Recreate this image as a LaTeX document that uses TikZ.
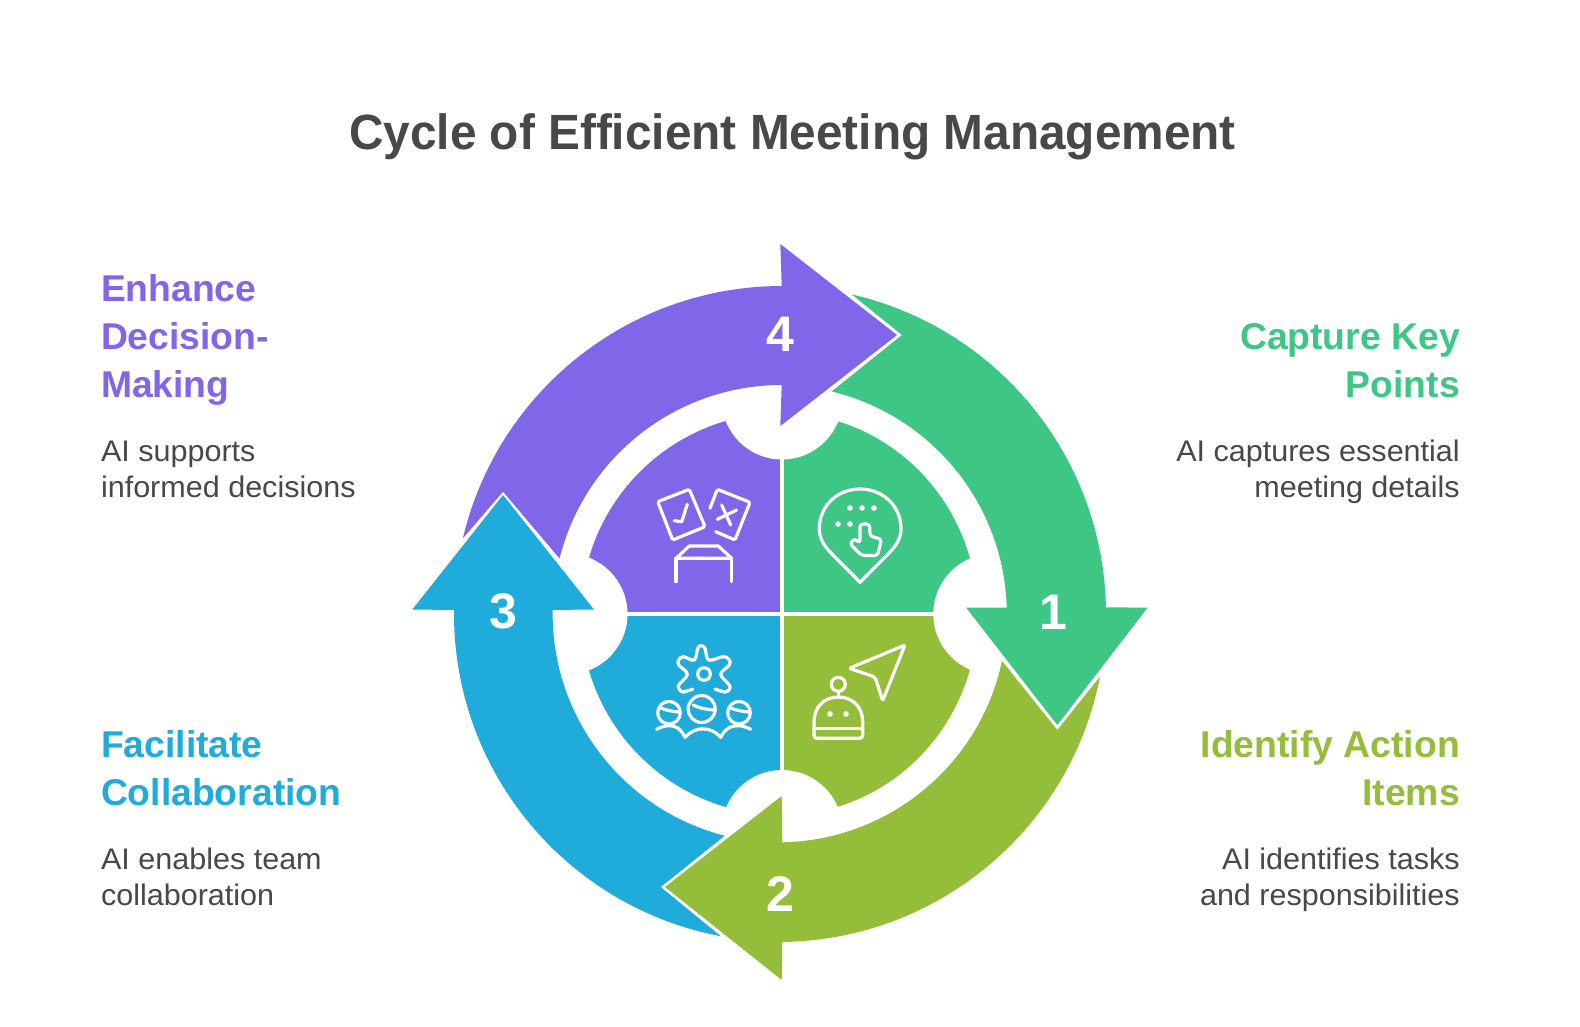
\documentclass[tikz,border=0pt]{standalone}
\usepackage{fontspec}
\setmainfont{Liberation Sans}
\newfontfamily\bodyfam[FakeStretch=1.025]{Liberation Sans}
\newfontfamily\titlefam[FakeStretch=0.965]{Liberation Sans}
\definecolor{cgreen}{HTML}{3EC685}
\definecolor{clime}{HTML}{94BD3A}
\definecolor{cblue}{HTML}{20ACDB}
\definecolor{cpurple}{HTML}{8066E9}
\definecolor{cgray}{HTML}{484848}
\tikzset{
  titletext/.style={inner sep=0pt,text=cgray,font=\titlefam\fontsize{49.5}{56}\selectfont\bfseries},
  headl/.style={inner sep=0pt,anchor=north west,align=left,font=\fontsize{37.3}{48}\selectfont\bfseries},
  headr/.style={inner sep=0pt,anchor=north east,align=right,font=\fontsize{37.3}{48}\selectfont\bfseries},
  bodyl/.style={inner sep=0pt,anchor=north west,align=left,text=cgray,font=\bodyfam\fontsize{29.8}{36}\selectfont},
  bodyr/.style={inner sep=0pt,anchor=north east,align=right,text=cgray,font=\bodyfam\fontsize{29.8}{36}\selectfont},
  numtext/.style={inner sep=0pt,text=white,font=\fontsize{50}{50}\selectfont\bfseries},
  icon/.style={draw=white,line width=3.2pt,line cap=round,line join=round},
  icondot/.style={fill=white,draw=none},
}
\begin{document}
\begin{tikzpicture}[x=1pt,y=-1pt]
\useasboundingbox (0,0) rectangle (1580,1026);
\fill[white] (0,0) rectangle (1580,1026);
% inner quadrants
\fill[cpurple] (782,614) -- (581,614) arc[start angle=180,end angle=270,radius=201] -- cycle;
\fill[cblue] (782,614) -- (782,815) arc[start angle=90,end angle=180,radius=201] -- cycle;
\fill[cgreen] (782,614) -- (782,413) arc[start angle=270,end angle=360,x radius=195.5,y radius=201] -- cycle;
\fill[clime] (782,614) -- (977.5,614) arc[start angle=0,end angle=90,x radius=195.5,y radius=201] -- cycle;
\fill[white] (780,400) rectangle (784,830);
\fill[white] (570,612) rectangle (994,616);
\fill[white] (782,399) circle[radius=60.5];
\fill[white] (782,830.5) circle[radius=60.5];
\fill[white] (567,614) circle[radius=60.5];
\fill[white] (993.8,614) circle[radius=60.5];
% arrow 1 green
\fill[cgreen] ({778+328*cos(-77)},{614+328*sin(-77)}) arc[start angle=-77,end angle=-1.14,radius=328]
  -- (1147.7,607.5) -- (1057.3,725) -- (966,607.5)
  -- (1006.7,607.5) arc[start angle=-1.63,end angle=-76.4,radius=229]
  -- (902,335) -- cycle;
% arrow 2 lime
\fill[clime] ({778+328*cos(11)},{614+328*sin(11)}) arc[start angle=11,end angle=89.25,radius=328]
  -- (781.7,980) -- (665,887) -- (781.7,796)
  -- (782.3,842.3) arc[start angle=88.92,end angle=12,radius=229]
  -- (1057.3,730) -- cycle;
% arrow 3 blue
\fill[cblue] ({782+328*cos(100.75)},{614+328*sin(100.75)}) arc[start angle=100.75,end angle=180.7,radius=328]
  -- (412.3,609.5) -- (503,495) -- (594,609.5)
  -- (552.7,610) arc[start angle=181,end angle=104.42,radius=229]
  -- (660.7,887) -- cycle;
% arrow 4 purple
\fill[cpurple] ({782+328*cos(193.34)},{614+328*sin(193.34)}) arc[start angle=193.34,end angle=269.95,radius=328]
  -- (780.3,244) -- (897,335) -- (780.3,426)
  -- (781.7,385) arc[start angle=270,end angle=194.04,radius=229]
  -- (503,491.7) -- cycle;
% numbers
\node[numtext] (n1) at (1053,612.5) {1};
\node[numtext] (n2) at (780,894) {2};
\node[numtext] (n3) at (503,611.5) {3};
\node[numtext] (n4) at (780,334) {4};
% purple icon
\draw[icon,rounded corners=1.5pt] (657.7,501.7) -- (689.3,489.3) -- (705,526.7) -- (672.7,540) -- cycle;
\draw[icon] (674.3,520.7) -- (681.7,521.7) -- (687.3,504.3);
\draw[icon,rounded corners=1.5pt] (710,508.3) -- (717.3,489.3) -- (750,502.3) -- (735,540) -- (715.7,531.7);
\draw[icon] (717.3,519.3) -- (736.7,510);
\draw[icon] (721.7,505) -- (730.7,525);
\draw[icon] (676,558.3) -- (689.3,546) -- (718.3,546) -- (731.7,558.3) -- cycle;
\draw[icon] (676,558.3) -- (676,581.7);
\draw[icon] (731.7,558.3) -- (731.7,581.7);
% green icon
\draw[icon] (860,582.3) -- (831,553) .. controls (824,546) and (819.3,538) .. (819.3,529)
  .. controls (819.3,506) and (837,489) .. (860,489)
  .. controls (883,489) and (901,506) .. (901,529)
  .. controls (901,538) and (896,546) .. (889,553) -- cycle;
\foreach \p in {(850,508),(862,508),(874,508),(838,524),(850,524)} \fill[icondot] \p circle[radius=2.8];
\draw[icon,rounded corners=3pt] (860,543) -- (860,524) -- (869.5,524) -- (870,536) -- (881.5,539.3) -- (877.5,555.5) -- (861.7,555.5) -- (850,544) -- (854,538.5) -- cycle;
% blue icon
\draw[icon] plot[smooth,tension=.6] coordinates {(692.7,689)(683.3,692)(679.3,689.3)(678.7,685)(687.3,674.3)(678.7,665)(678.7,660)(683.3,656.7)(694.3,660)(697.7,648.3)(701,645.7)(705,648.3)(708.7,660)(723.3,656.7)(729.3,660)(729.3,665)(720.7,674.3)(729.3,685)(729.3,689.3)(725,692)(715,689)};
\draw[icon] (704,674) circle[radius=6.3];
\draw[icon] (701.7,709) circle[radius=13.5];
\draw[icon] (693.3,705) .. controls (699,708) and (706,709.5) .. (714,710);
\draw[icon] (669,712.7) circle[radius=11.3];
\draw[icon] (660,707.7) .. controls (665,710) and (672,711.5) .. (679.3,712);
\draw[icon] (739,712.7) circle[radius=11.3];
\draw[icon] (730,707.7) .. controls (735,710) and (742,711.5) .. (749.3,712);
\draw[icon] (656.7,729.3) .. controls (670,722) and (680,726) .. (685,737.3)
  .. controls (695,726) and (711,726) .. (720.7,737.3)
  .. controls (726,726) and (737,722) .. (750.7,729.3);
% lime icon
\draw[icon,rounded corners=2pt] (849.3,668.3) -- (905,645) -- (882.7,700.7) -- (875,677) -- cycle;
\draw[icon] (838.3,684.3) circle[radius=7];
\draw[icon] (838.3,691.5) -- (838.3,697);
\draw[icon] (814,722) .. controls (814,707) and (824,697) .. (838.3,697) .. controls (852.7,697) and (862.7,707) .. (862.7,722);
\draw[icon,rounded corners=3pt] (814,722) -- (814,738.3) -- (862.7,738.3) -- (862.7,722);
\draw[icon] (814,728.3) -- (862.7,728.3);
\fill[icondot] (830,714) circle[radius=2.8];
\fill[icondot] (846,714) circle[radius=2.8];
% text
\node[titletext] (title) at (792.5,137) {Cycle of Efficient Meeting Management};
\node[headl,text=cpurple] (h4) at (100.8,274.5) {Enhance\\Decision-\\Making};
\node[bodyl] (b4) at (100.8,440.5) {AI supports\\informed decisions};
\node[headr,text=cgreen] (h1) at (1460,323.5) {Capture Key\\Points};
\node[bodyr] (b1) at (1460,439.5) {AI captures essential\\meeting details};
\node[headl,text=cblue] (h3) at (100.8,730) {Facilitate\\Collaboration};
\node[bodyl] (b3) at (100.8,848) {AI enables team\\collaboration};
\node[headr,text=clime] (h2) at (1460,730) {Identify Action\\Items};
\node[bodyr] (b2) at (1460,848) {AI identifies tasks\\and responsibilities};
\end{tikzpicture}
\end{document}
